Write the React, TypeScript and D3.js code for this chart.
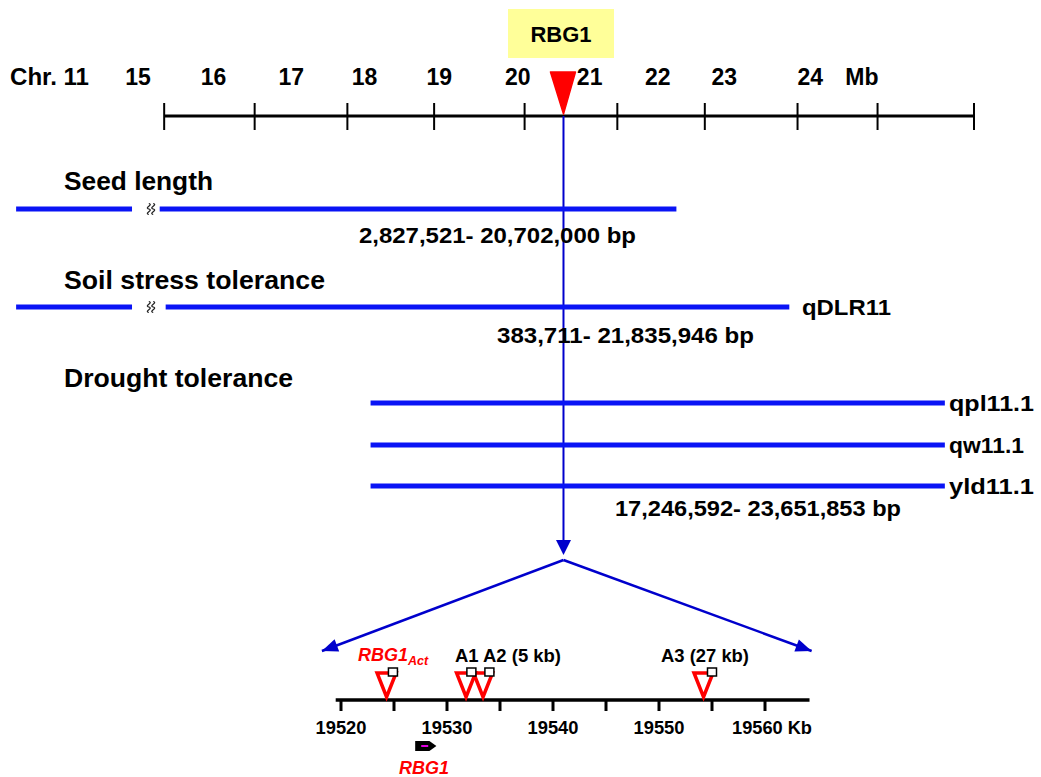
import React from 'react';
import * as d3 from 'd3';

// chromosome 11 overview (Mb)
const mbLabels = ['15', '16', '17', '18', '19', '20', '21', '22', '23', '24'];
const mbLabelPos = [15, 16.01, 17.05, 18.03, 19.03, 20.08, 21.04, 21.95, 22.84, 23.99];
const mbTicks = [15.35, 16.56, 17.8, 18.96, 20.17, 21.41, 22.58, 23.82, 24.89, 26.18];
const geneMb = 20.69;

// QTL regions
const qtlTitles = ['Seed length', 'Soil stress tolerance', 'Drought tolerance'];
const qtlRanges = ['2,827,521- 20,702,000 bp', '383,711- 21,835,946 bp', '17,246,592- 23,651,853 bp'];
const barNames = ['', 'qDLR11', 'qpl11.1', 'qw11.1', 'yld11.1'];
const barStart = [15.29, 15.37, 18.11, 18.11, 18.11];
const barEnd = [22.2, 23.71, 25.79, 25.79, 25.79];
const barBroken = [true, true, false, false, false];
const brokenSeg = [13.37, 14.92];

// fine map (kb)
const kbTicks = [19520, 19525, 19530, 19535, 19540, 19545, 19550, 19555, 19560];
const kbLabels = [19520, 19530, 19540, 19550, 19560];
const insertKb = [19524.3, 19531.8, 19533.4, 19554.2];
const primerKb = [19524.9, 19532.3, 19534.0, 19555.0];
const geneKb = [19527.0, 19529.0];
const axisKb = [19519.5, 19564.2];
const zoomKb = [19518.2, 19564.4];

const FONT = '"Liberation Sans", Arial, sans-serif';
const BLUE = '#0a14f5';
const LINE = '#0000cc';
const RED = '#ff0000';

// layout
const axisY = 116;
const barY = [209, 307, 403, 445, 486];
const titleY = [190, 289, 387];
const titleW = [149, 261, 229];
const rangeX = [359, 497, 615];
const rangeY = [243, 343, 516];
const rangeW = [277, 257, 286];
const nameX = [0, 802, 949, 949, 949];
const nameW = [0, 89, 85, 75, 85];
const kbY = 700;

const arrowHead = (x1: number, y1: number, x2: number, y2: number, len: number, half: number) => {
  const a = Math.atan2(y2 - y1, x2 - x1);
  const bx = x2 - len * Math.cos(a);
  const by = y2 - len * Math.sin(a);
  const px = -Math.sin(a) * half;
  const py = Math.cos(a) * half;
  return `M${x2},${y2}L${bx + px},${by + py}L${bx - px},${by - py}Z`;
};

const squiggle = (cx: number, cy: number) =>
  [-2.2, 2.2].map(o => `M${cx + o - 1},${cy - 5.5}c5,1.5 -5,4 0,5.5c5,1.5 -5,4 0,5.5`).join('');

export default function App() {
  const xMb = d3.scaleLinear().domain([15, 24]).range([138, 811]);
  const xKb = d3.scaleLinear().domain([19520, 19560]).range([341, 765]);
  const gx = xMb(geneMb);
  const splitY = 560;
  const zoomY = 651;

  return (
    <svg width={1041} height={777} style={{ position: 'absolute', left: 0, top: 0, background: '#fff' }}
      fontFamily={FONT} fontWeight="bold">
      {/* gene name box */}
      <rect x={508} y={9} width={106} height={49} fill="#ffff99" />
      <text x={561} y={42} fontSize={22} textAnchor="middle">RBG1</text>

      {/* Mb axis */}
      <text x={10} y={85} fontSize={23} textLength={79} lengthAdjust="spacingAndGlyphs">Chr. 11</text>
      {mbLabels.map((l, i) => (
        <text key={l} x={xMb(mbLabelPos[i])} y={85} fontSize={23} textAnchor="middle">{l}</text>
      ))}
      <text x={xMb(24.68)} y={85} fontSize={23} textAnchor="middle">Mb</text>
      <line x1={xMb(mbTicks[0])} x2={xMb(mbTicks[mbTicks.length - 1])} y1={axisY} y2={axisY} stroke="#000" strokeWidth={3.2} />
      {mbTicks.map(t => (
        <line key={t} x1={xMb(t)} x2={xMb(t)} y1={103} y2={130} stroke="#000" strokeWidth={2} />
      ))}

      {/* vertical pointer */}
      <line x1={gx} x2={gx} y1={axisY} y2={543} stroke={LINE} strokeWidth={2} />
      <path d={arrowHead(gx, axisY, gx, 555, 15, 7.5)} fill={LINE} />

      {/* QTL titles and ranges */}
      {qtlTitles.map((t, i) => (
        <text key={t} x={64} y={titleY[i]} fontSize={25.5} textLength={titleW[i]} lengthAdjust="spacingAndGlyphs">{t}</text>
      ))}
      {qtlRanges.map((t, i) => (
        <text key={t} x={rangeX[i]} y={rangeY[i]} fontSize={22} textLength={rangeW[i]} lengthAdjust="spacingAndGlyphs">{t}</text>
      ))}

      {/* QTL bars */}
      {barNames.map((n, i) => (
        <g key={i}>
          <line x1={xMb(barStart[i])} x2={xMb(barEnd[i])} y1={barY[i]} y2={barY[i]} stroke={BLUE} strokeWidth={5} />
          {barBroken[i] && (
            <>
              <line x1={xMb(brokenSeg[0])} x2={xMb(brokenSeg[1])} y1={barY[i]} y2={barY[i]} stroke={BLUE} strokeWidth={5} />
              <path d={squiggle(152, barY[i])} fill="none" stroke="#222" strokeWidth={1.2} />
            </>
          )}
          {n && (
            <text x={nameX[i]} y={barY[i] + 7.5} fontSize={22} textLength={nameW[i]} lengthAdjust="spacingAndGlyphs">{n}</text>
          )}
        </g>
      ))}

      {/* top marker */}
      <path d={`M${gx - 13},72L${gx + 12},72L${gx},114Z`} fill={RED} stroke={RED} strokeWidth={1.5} strokeLinejoin="round" />

      {/* zoom lines */}
      {zoomKb.map(k => (
        <g key={k}>
          <line x1={gx} y1={splitY} x2={xKb(k)} y2={zoomY} stroke={LINE} strokeWidth={2.5} />
          <path d={arrowHead(gx, splitY, xKb(k), zoomY, 16, 6.5)} fill={LINE} />
        </g>
      ))}

      {/* kb axis */}
      <line x1={xKb(axisKb[0])} x2={xKb(axisKb[1])} y1={kbY} y2={kbY} stroke="#000" strokeWidth={3.5} />
      {kbTicks.map(t => (
        <line key={t} x1={xKb(t)} x2={xKb(t)} y1={kbY} y2={711} stroke="#000" strokeWidth={3} />
      ))}
      {kbLabels.map((k, i) => (
        i < kbLabels.length - 1
          ? <text key={k} x={xKb(k)} y={734} fontSize={18.5} textAnchor="middle" textLength={51} lengthAdjust="spacingAndGlyphs">{k}</text>
          : <text key={k} x={xKb(k) - 33} y={734} fontSize={18.5} textLength={80} lengthAdjust="spacingAndGlyphs">{k} Kb</text>
      ))}

      {/* insertions */}
      {insertKb.map(k => (
        <path key={k} d={`M${xKb(k) - 9.5},673L${xKb(k) + 9.5},673L${xKb(k)},697Z`} fill="none" stroke={RED} strokeWidth={3.5} strokeLinejoin="miter" />
      ))}
      {primerKb.map(k => (
        <rect key={k} x={xKb(k) - 4.5} y={668} width={9} height={8} fill="#fff" stroke="#000" strokeWidth={1.5} />
      ))}
      <text x={358} y={661} fontSize={18} fill={RED} fontStyle="italic">RBG1<tspan fontSize={12.5} dy={4}>Act</tspan></text>
      <text x={455} y={662} fontSize={18.5} textLength={106} lengthAdjust="spacingAndGlyphs">A1 A2 (5 kb)</text>
      <text x={661} y={662} fontSize={18.5} textLength={88} lengthAdjust="spacingAndGlyphs">A3 (27 kb)</text>

      {/* gene model */}
      <path d={`M${xKb(geneKb[0])},741L${xKb(geneKb[1]) - 7},741L${xKb(geneKb[1])},746L${xKb(geneKb[1]) - 7},751L${xKb(geneKb[0])},751Z`} fill="#000" />
      <line x1={xKb(geneKb[0]) + 6} x2={xKb(geneKb[0]) + 13} y1={746} y2={746} stroke="#e000e0" strokeWidth={2} />
      <text x={424} y={774} fontSize={18} fill={RED} fontStyle="italic" textAnchor="middle">RBG1</text>
    </svg>
  );
}
